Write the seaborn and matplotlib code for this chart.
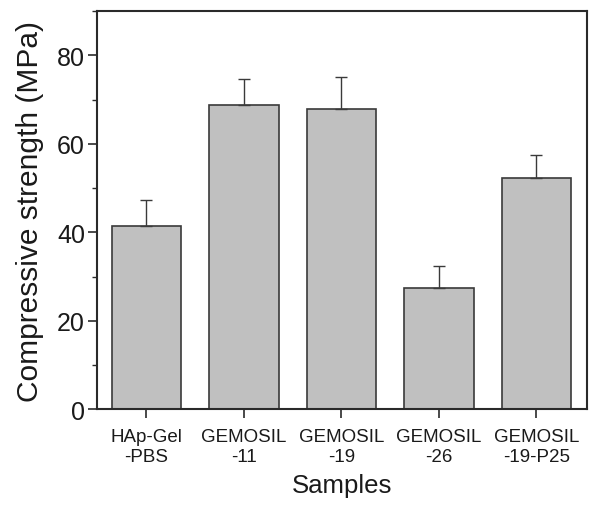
import matplotlib
matplotlib.use("Agg")
import matplotlib.pyplot as plt
import seaborn as sns
import numpy as np
from matplotlib.ticker import MultipleLocator

samples = ["HAp-Gel\n-PBS", "GEMOSIL\n-11", "GEMOSIL\n-19", "GEMOSIL\n-26", "GEMOSIL\n-19-P25"]
strength = [41.4, 68.8, 67.8, 27.5, 52.3]
errors = [5.9, 5.9, 7.3, 4.8, 5.2]

sns.set_style("ticks")
plt.rcParams['font.family'] = ['Liberation Sans', 'DejaVu Sans']
plt.rcParams['text.color'] = '#1a1a1a'
plt.rcParams['axes.labelcolor'] = '#1a1a1a'
plt.rcParams['xtick.color'] = '#1a1a1a'
plt.rcParams['ytick.color'] = '#1a1a1a'

fig = plt.figure(figsize=(6.01, 5.06), dpi=100)
ax = fig.add_axes([0.161, 0.189, 0.816, 0.787])

sns.barplot(x=samples, y=strength, color="#c0c0c0", saturation=1, width=0.71,
            edgecolor="#3a3a3a", linewidth=1.2, ax=ax)
xs = np.arange(len(samples))
ax.errorbar(xs, strength, yerr=[np.zeros(len(errors)), errors], fmt="none",
            ecolor="#3a3a3a", elinewidth=1.0, capsize=4, capthick=1.0)

ax.set_ylim(0, 90)
ax.set_xlim(-0.51, 4.52)
ax.yaxis.set_major_locator(MultipleLocator(20))
ax.yaxis.set_minor_locator(MultipleLocator(10))
for s in ax.spines.values():
    s.set_color("#2a2a2a")
    s.set_linewidth(1.5)
ax.tick_params(axis="both", which="major", direction="out", length=6.5, width=1.2,
               color="#2a2a2a", top=False, right=False)
ax.tick_params(axis="y", labelsize=18, pad=2)
ax.tick_params(axis="x", labelsize=13.5, pad=7)
ax.tick_params(axis="y", which="minor", direction="out", length=3.5, width=1.0, color="#2a2a2a")
ax.set_xlabel("Samples", fontsize=18.5, labelpad=6)
ax.set_ylabel("Compressive strength (MPa)", fontsize=21.5, labelpad=9)

fig.savefig("out.png", dpi=100)
